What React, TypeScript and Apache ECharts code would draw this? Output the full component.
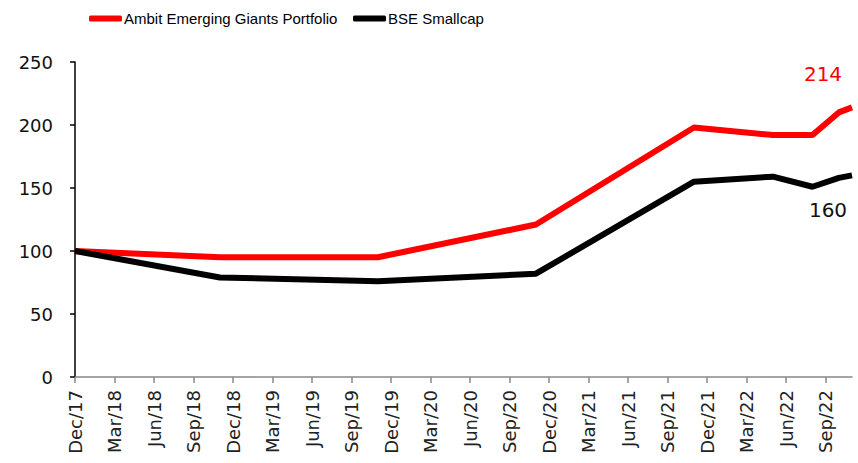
import React, { useEffect, useRef } from "react";
import * as echarts from "echarts";

const monthNames = ["Jan", "Feb", "Mar", "Apr", "May", "Jun", "Jul", "Aug", "Sep", "Oct", "Nov", "Dec"];
const categories: string[] = ["Dec/17"];
for (let y = 18; y <= 22; y++) {
  for (let m = 0; m < 12; m++) {
    if (y === 22 && m === 11) break;
    categories.push(`${monthNames[m]}/${y}`);
  }
}

const seriesNames = ["Ambit Emerging Giants Portfolio", "BSE Smallcap"];

const ambitPoints: [string, number][] = [
  ["Dec/17", 100],
  ["Nov/18", 95],
  ["Nov/19", 95],
  ["Nov/20", 121],
  ["Nov/21", 198],
  ["May/22", 192],
  ["Aug/22", 192],
  ["Oct/22", 210],
  ["Nov/22", 214],
];

const bsePoints: [string, number][] = [
  ["Dec/17", 100],
  ["Nov/18", 79],
  ["Nov/19", 76],
  ["Nov/20", 82],
  ["Nov/21", 155],
  ["May/22", 159],
  ["Aug/22", 151],
  ["Oct/22", 158],
  ["Nov/22", 160],
];

const yTicks = { min: 0, max: 250, interval: 50 };

export default function App() {
  const ref = useRef<HTMLDivElement>(null);
  useEffect(() => {
    if (!ref.current) return;
    const chart = echarts.init(ref.current, null, { renderer: "svg" });
    const withEndLabel = (pts: [string, number][], color: string, pos: string, offset: number[]) =>
      pts.map((p, i) =>
        i === pts.length - 1
          ? {
              value: p,
              label: {
                show: true,
                position: pos,
                offset,
                color,
                fontSize: 20,
                fontFamily: "DejaVu Sans",
                formatter: () => String(p[1]),
              },
            }
          : { value: p }
      );
    const legendBase = {
      top: 6,
      itemWidth: 33,
      itemHeight: 6,
      icon: "roundRect",
      textStyle: { fontSize: 15, fontFamily: "Liberation Sans", color: "#000", padding: [0, 0, 0, -3] },
    };
    chart.setOption({
      animation: false,
      backgroundColor: "#fff",
      legend: [
        { ...legendBase, left: 84, data: [seriesNames[0]] },
        { ...legendBase, left: 348, data: [seriesNames[1]] },
      ],
      grid: { left: 75, right: 6, top: 62, bottom: 86, containLabel: false, outerBoundsMode: "none" },
      xAxis: {
        type: "category",
        data: categories,
        boundaryGap: false,
        axisLine: { lineStyle: { color: "#888", width: 1.5 } },
        axisTick: { interval: 2, length: 6, lineStyle: { color: "#888", width: 1.5 } },
        axisLabel: {
          interval: 2,
          rotate: 90,
          fontSize: 18,
          fontFamily: "DejaVu Sans",
          color: "#222",
          margin: 13,
        },
        splitLine: { show: false },
      },
      yAxis: {
        type: "value",
        min: yTicks.min,
        max: yTicks.max,
        interval: yTicks.interval,
        axisLine: { show: true, lineStyle: { color: "#000", width: 1.5 } },
        axisTick: { show: true, length: 5, lineStyle: { color: "#000", width: 1.5 } },
        axisLabel: { fontSize: 18, fontFamily: "DejaVu Sans", color: "#111", margin: 22 },
        splitLine: { show: false },
      },
      series: [
        {
          name: seriesNames[0],
          type: "line",
          data: withEndLabel(ambitPoints, "#ff0000", "top", [-29, -18]),
          symbol: "circle",
          symbolSize: 0,
          showSymbol: true,
          lineStyle: { color: "#ff0000", width: 6 },
          itemStyle: { color: "#ff0000" },
        },
        {
          name: seriesNames[1],
          type: "line",
          data: withEndLabel(bsePoints, "#111", "bottom", [-24, 20]),
          symbol: "circle",
          symbolSize: 0,
          showSymbol: true,
          lineStyle: { color: "#000", width: 6 },
          itemStyle: { color: "#000" },
        },
      ],
    });
    return () => chart.dispose();
  }, []);
  return <div ref={ref} style={{ width: 858, height: 463, position: "absolute", left: 0, top: 0 }} />;
}
